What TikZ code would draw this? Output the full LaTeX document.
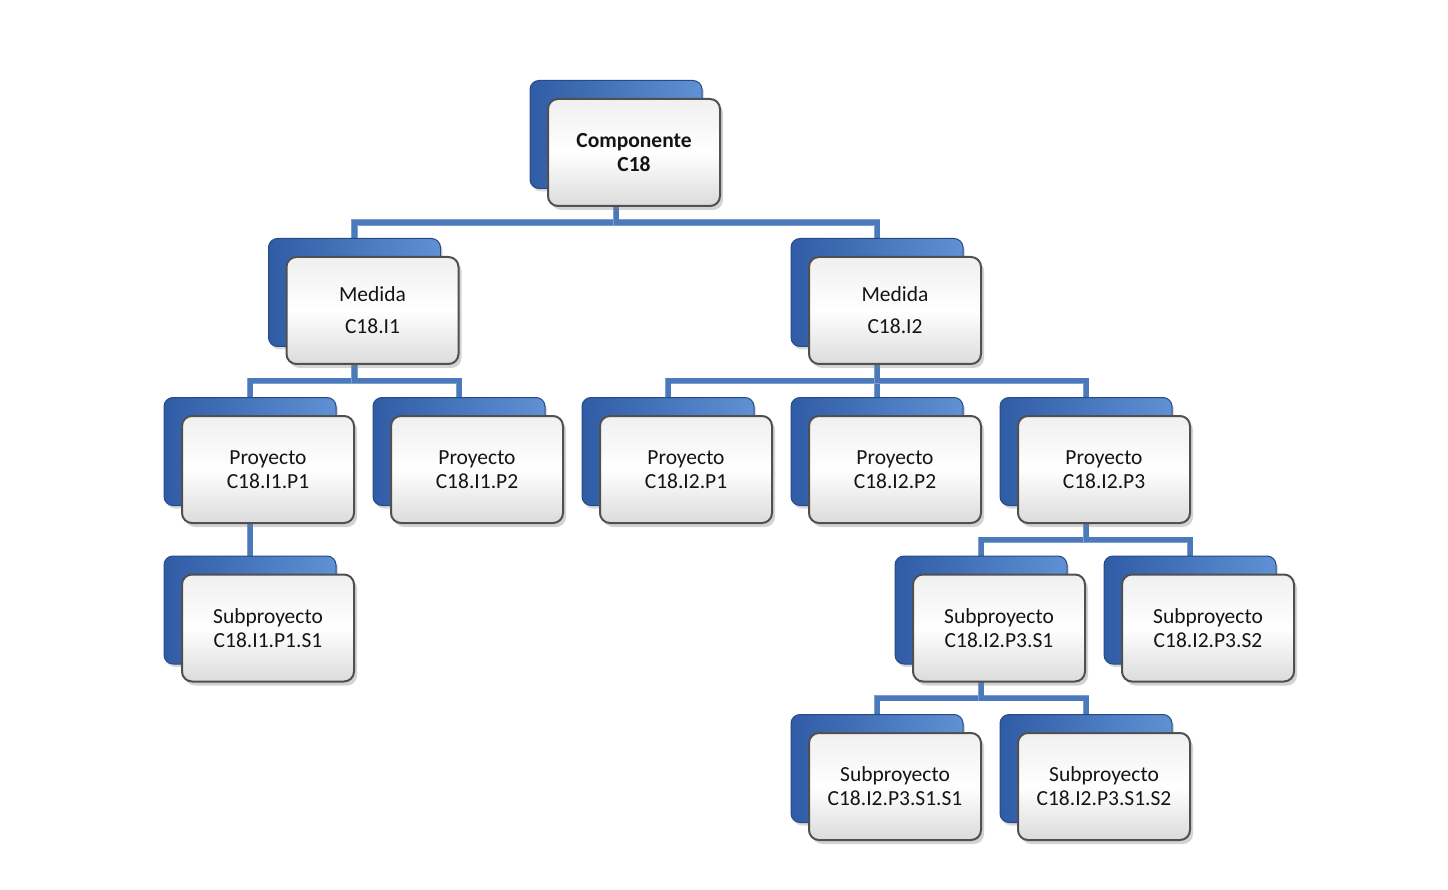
\documentclass[tikz,border=0pt]{standalone}
\usepackage{fontspec}
\setmainfont{Carlito}
\usetikzlibrary{calc,shadows}
\pgfdeclarelayer{bg}
\pgfsetlayers{bg,main}
\definecolor{connblue}{RGB}{74,122,186}
\definecolor{connlight}{RGB}{125,160,210}
\definecolor{bluedark}{RGB}{48,92,165}
\definecolor{bluelight}{RGB}{95,145,212}
\definecolor{frameg}{RGB}{80,80,80}
\definecolor{txt}{RGB}{20,20,20}
\tikzset{
  backbox/.style={rectangle, rounded corners=9pt, minimum width=172pt, minimum height=108pt,
    inner sep=0pt, draw=bluedark!80!black, line width=1pt,
    left color=bluedark, right color=bluelight,
    drop shadow={shadow xshift=2pt, shadow yshift=-3pt, opacity=0.3}},
  frontbox/.style={rectangle, rounded corners=10pt, minimum width=172pt, minimum height=107pt,
    inner sep=2pt, draw=frameg, line width=2pt,
    top color=gray!12, bottom color=gray!28, middle color=white,
    drop shadow={shadow xshift=3pt, shadow yshift=-4pt, opacity=0.35},
    align=center, text=txt, font=\fontsize{21.5}{24}\selectfont},
  conn/.style={draw=connblue, line width=5pt,
    preaction={draw=connlight, line width=6.2pt}},
}
\newcommand\orgunit[3]{%
  \node[backbox] (#1B) at ($#2+(-18,-18)$) {};
  \node[frontbox] (#1) at #2 {#3};}
\newcommand\orglink[3]{%
  \draw[conn] (#1B.south) |- ($(#3B.north)!.5!(#3B.north |- #2.south)$) -- (#3B.north);}
\begin{document}
\begin{tikzpicture}[x=1pt,y=-1pt]
\useasboundingbox (0,0) rectangle (1448,890);
\orgunit{c}{(634,152.5)}{\textbf{Componente}\\\textbf{C18}}
\orgunit{ma}{(372.5,310.5)}{Medida\\[8pt]C18.I1}
\orgunit{mb}{(895,310.5)}{Medida\\[8pt]C18.I2}
\orgunit{pa}{(268,469.5)}{Proyecto\\C18.I1.P1}
\orgunit{pb}{(477,469.5)}{Proyecto\\C18.I1.P2}
\orgunit{pc}{(686,469.5)}{Proyecto\\C18.I2.P1}
\orgunit{pd}{(895,469.5)}{Proyecto\\C18.I2.P2}
\orgunit{pe}{(1104,469.5)}{Proyecto\\C18.I2.P3}
\orgunit{sa}{(268,628)}{Subproyecto\\C18.I1.P1.S1}
\orgunit{sb}{(999,628)}{Subproyecto\\C18.I2.P3.S1}
\orgunit{sc}{(1208,628)}{Subproyecto\\C18.I2.P3.S2}
\orgunit{ta}{(895,786.5)}{Subproyecto\\C18.I2.P3.S1.S1}
\orgunit{tb}{(1104,786.5)}{Subproyecto\\C18.I2.P3.S1.S2}
\begin{pgfonlayer}{bg}
\orglink{c}{c}{ma}
\orglink{c}{c}{mb}
\orglink{ma}{ma}{pa}
\orglink{ma}{ma}{pb}
\orglink{mb}{mb}{pc}
\orglink{mb}{mb}{pd}
\orglink{mb}{mb}{pe}
\orglink{pa}{pa}{sa}
\orglink{pe}{pe}{sb}
\orglink{pe}{pe}{sc}
\orglink{sb}{sb}{ta}
\orglink{sb}{sb}{tb}
\end{pgfonlayer}
\end{tikzpicture}
\end{document}
